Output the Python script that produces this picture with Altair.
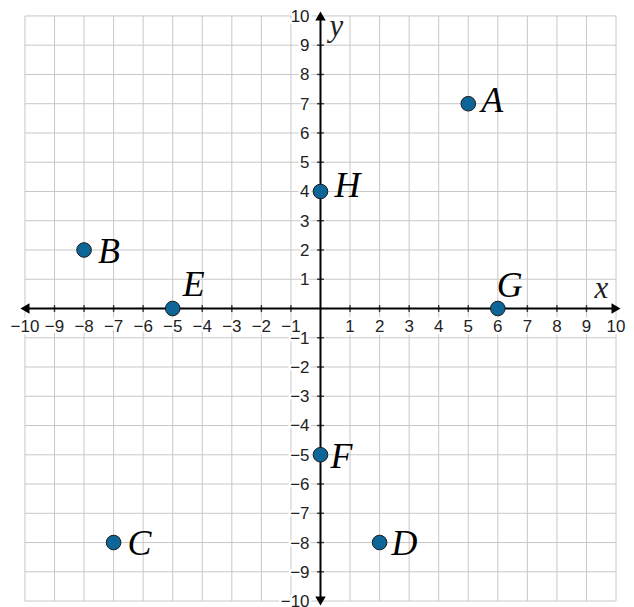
import altair as alt
import pandas as pd

# ---- data ----
point_names = ["A", "B", "C", "D", "E", "F", "G", "H"]
point_x = [5, -8, -7, 2, -5, 0, 6, 0]
point_y = [7, 2, -8, -8, 0, -5, 0, 4]

grid_values = list(range(-10, 11))
tick_values = [v for v in range(-9, 10) if v != 0]
label_values = [v for v in range(-10, 11) if v != 0]
label_texts = [("\u2212" + str(-v)) if v < 0 else str(v) for v in label_values]
LO, HI = grid_values[0], grid_values[-1]

# ---- styles ----
label_offsets = {
    "A": (13, 8), "B": (14, 13), "C": (14, 13), "D": (12, 13),
    "E": (10, -13), "F": (10, 13), "G": (-1, -12), "H": (14, 6),
}
GRID = "#c8c8c8"
DOT = "#0e6597"
TICK_FONT = "Liberation Sans"
SERIF = "Liberation Serif"

X = alt.Scale(domain=[LO, HI], nice=False, zero=False)
Y = alt.Scale(domain=[LO, HI], nice=False, zero=False)

pts = pd.DataFrame({"name": point_names, "x": point_x, "y": point_y})
grid = pd.DataFrame({"v": grid_values, "lo": LO, "hi": HI, "zero": 0})
ticks = pd.DataFrame({"v": tick_values, "zero": 0})
labs = pd.DataFrame({"v": label_values, "t": label_texts, "zero": 0})
arrows_df = pd.DataFrame({
    "x": [HI, LO, 0, 0], "y": [0, 0, HI, LO],
    "k": ["triangle-right", "triangle-left", "triangle-up", "triangle-down"],
})
names_df = pd.DataFrame({"x": [9.5, 0], "y": [0, 10], "t": ["x", "y"]})

vgrid = alt.Chart(grid).mark_rule(color=GRID, strokeWidth=1).encode(
    x=alt.X("v:Q", scale=X, axis=None),
    y=alt.Y("lo:Q", scale=Y, axis=None),
    y2="hi:Q",
)
hgrid = alt.Chart(grid).mark_rule(color=GRID, strokeWidth=1).encode(
    y=alt.Y("v:Q", scale=Y, axis=None),
    x=alt.X("lo:Q", scale=X, axis=None),
    x2="hi:Q",
)

def halo_kw(halo):
    return dict(stroke="white", strokeWidth=5, strokeJoin="round") if halo else {}

def xlab(halo):
    return alt.Chart(labs).mark_text(
        font=TICK_FONT, fontSize=17, color="#222", align="center",
        baseline="alphabetic", dy=24, **halo_kw(halo)
    ).encode(x=alt.X("v:Q", scale=X, axis=None),
             y=alt.Y("zero:Q", scale=Y, axis=None), text="t:N")

def ylab(halo):
    return alt.Chart(labs).mark_text(
        font=TICK_FONT, fontSize=17, color="#222", align="right",
        baseline="alphabetic", dx=-11, dy=6, **halo_kw(halo)
    ).encode(y=alt.Y("v:Q", scale=Y, axis=None),
             x=alt.X("zero:Q", scale=X, axis=None), text="t:N")

axis_src = grid.iloc[[0]]
xaxis = alt.Chart(axis_src).mark_rule(color="black", strokeWidth=2).encode(
    y=alt.Y("zero:Q", scale=Y, axis=None),
    x=alt.X("lo:Q", scale=X, axis=None), x2="hi:Q",
)
yaxis = alt.Chart(axis_src).mark_rule(color="black", strokeWidth=2).encode(
    x=alt.X("zero:Q", scale=X, axis=None),
    y=alt.Y("lo:Q", scale=Y, axis=None), y2="hi:Q",
)
xticks = alt.Chart(ticks).mark_tick(
    orient="vertical", size=7, thickness=1.5, color="black"
).encode(x=alt.X("v:Q", scale=X, axis=None),
         y=alt.Y("zero:Q", scale=Y, axis=None))
yticks = alt.Chart(ticks).mark_tick(
    orient="horizontal", size=7, thickness=1.5, color="black"
).encode(y=alt.Y("v:Q", scale=Y, axis=None),
         x=alt.X("zero:Q", scale=X, axis=None))

arrows = []
for shape in arrows_df["k"]:
    arrows.append(
        alt.Chart(arrows_df).transform_filter(alt.datum.k == shape).mark_point(
            shape=shape, size=110, filled=True, color="black", opacity=1
        ).encode(x=alt.X("x:Q", scale=X, axis=None),
                 y=alt.Y("y:Q", scale=Y, axis=None))
    )

axis_x_name = alt.Chart(names_df).transform_filter(alt.datum.t == "x").mark_text(
    font=SERIF, fontStyle="italic", fontSize=31, color="#222",
    align="center", baseline="alphabetic", dy=-11
).encode(x=alt.X("x:Q", scale=X, axis=None),
         y=alt.Y("y:Q", scale=Y, axis=None), text="t:N")
axis_y_name = alt.Chart(names_df).transform_filter(alt.datum.t == "y").mark_text(
    font=SERIF, fontStyle="italic", fontSize=31, color="#222",
    align="center", baseline="alphabetic", dx=16, dy=20
).encode(x=alt.X("x:Q", scale=X, axis=None),
         y=alt.Y("y:Q", scale=Y, axis=None), text="t:N")

dots = alt.Chart(pts).mark_circle(
    size=215, color=DOT, opacity=1, stroke="#1a1a1a", strokeWidth=1
).encode(x=alt.X("x:Q", scale=X, axis=None),
         y=alt.Y("y:Q", scale=Y, axis=None))

name_layers = []
for nm, (dx, dy) in label_offsets.items():
    name_layers.append(
        alt.Chart(pts).transform_filter(alt.datum.name == nm).mark_text(
            font=SERIF, fontStyle="italic", fontSize=36, color="black",
            align="left", baseline="alphabetic", dx=dx, dy=dy
        ).encode(x=alt.X("x:Q", scale=X, axis=None),
                 y=alt.Y("y:Q", scale=Y, axis=None), text="name:N")
    )

chart = alt.layer(
    vgrid, hgrid, xlab(True), ylab(True), xlab(False), ylab(False),
    xaxis, yaxis, xticks, yticks, *arrows, axis_x_name, axis_y_name,
    dots, *name_layers
).properties(
    width=593, height=587,
    autosize=alt.AutoSizeParams(type="none"),
    padding={"left": 17, "top": 7, "right": 10, "bottom": 5},
).configure_view(stroke=None)

chart.save("out.html", embed_options={"renderer": "svg", "actions": False})
